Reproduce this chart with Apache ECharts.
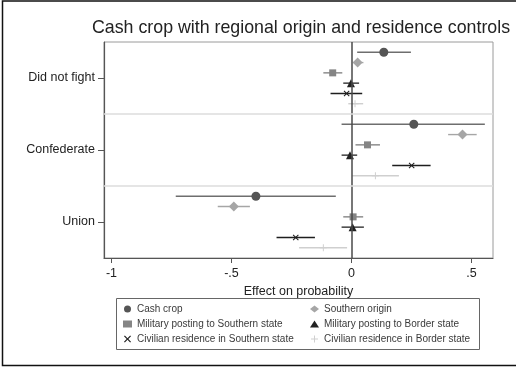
<!DOCTYPE html>
<html>
<head>
<meta charset="utf-8">
<script src="https://cdn.jsdelivr.net/npm/echarts@6/dist/echarts.min.js"></script>
<style>
  html, body { margin: 0; padding: 0; background: #fff; }
  #chart { width: 516px; height: 367px; }
</style>
</head>
<body>
<div id="chart"></div>
<script>
// Outcome groups, top to bottom
const groups = ['Did not fight', 'Confederate', 'Union'];

// Regressors, in plotting order within each group
const seriesNames = [
  'Cash crop',
  'Southern origin',
  'Military posting to Southern state',
  'Military posting to Border state',
  'Civilian residence in Southern state',
  'Civilian residence in Border state'
];

// Point estimates and 95% interval bounds, one value per group
const cashCrop      = [0.135, 0.26, -0.398];
const cashCropLo    = [0.024, -0.041, -0.732];
const cashCropHi    = [0.248, 0.556, -0.065];

const southOrigin   = [0.026, 0.463, -0.49];
const southOriginLo = [0.008, 0.403, -0.557];
const southOriginHi = [0.05, 0.522, -0.423];

const milSouth      = [-0.078, 0.067, 0.007];
const milSouthLo    = [-0.117, 0.017, -0.034];
const milSouthHi    = [-0.038, 0.119, 0.049];

const milBorder     = [-0.002, -0.006, 0.005];
const milBorderLo   = [-0.034, -0.041, -0.041];
const milBorderHi   = [0.032, 0.024, 0.052];

const civSouth      = [-0.02, 0.251, -0.232];
const civSouthLo    = [-0.087, 0.17, -0.312];
const civSouthHi    = [0.045, 0.33, -0.152];

const civBorder     = [0.015, 0.1, -0.117];
const civBorderLo   = [-0.013, 0.003, -0.218];
const civBorderHi   = [0.049, 0.198, -0.018];

// X tick values and their labels
const xTicks = [-1, -0.5, 0, 0.5];
const xTickLabels = ['-1', '-.5', '0', '.5'];

const estimates = [cashCrop, southOrigin, milSouth, milBorder, civSouth, civBorder];
const lows = [cashCropLo, southOriginLo, milSouthLo, milBorderLo, civSouthLo, civBorderLo];
const highs = [cashCropHi, southOriginHi, milSouthHi, milBorderHi, civSouthHi, civBorderHi];

// Marker styling per regressor
const xShape = 'path://M0,1.2L1.2,0L5,3.8L8.8,0L10,1.2L6.2,5L10,8.8L8.8,10L5,6.2L1.2,10L0,8.8L3.8,5Z';
const plusShape = 'path://M4.3,0H5.7V4.3H10V5.7H5.7V10H4.3V5.7H0V4.3H4.3Z';
const styles = [
  { symbol: 'circle',   size: 9,  color: '#555555', ci: '#6e6e6e' },
  { symbol: 'diamond',  size: 10, color: '#a6a6a6', ci: '#a6a6a6' },
  { symbol: 'rect',     size: 7,  color: '#858585', ci: '#858585' },
  { symbol: 'triangle', size: 8,  color: '#222222', ci: '#333333' },
  { symbol: xShape,     size: 6,  color: '#1e1e1e', ci: '#1e1e1e' },
  { symbol: plusShape,  size: 7,  color: '#cfcfcf', ci: '#cfcfcf' }
];

// Each group takes 7 row units; its six regressors sit on rows 1..6
const ROWS = 7;
const rowOf = (g, s) => g * ROWS + 1 + s;

const series = [];
seriesNames.forEach((name, s) => {
  const st = styles[s];
  series.push({
    name: name + ' CI',
    type: 'custom',
    z: 3,
    silent: true,
    encode: { x: [0, 1], y: 2 },
    data: groups.map((g, gi) => [lows[s][gi], highs[s][gi], rowOf(gi, s)]),
    renderItem: (params, api) => {
      const a = api.coord([api.value(0), api.value(2)]);
      const b = api.coord([api.value(1), api.value(2)]);
      return {
        type: 'line',
        shape: { x1: a[0], y1: a[1], x2: b[0], y2: b[1] },
        style: { stroke: st.ci, lineWidth: 1.4 }
      };
    }
  });
});
seriesNames.forEach((name, s) => {
  const st = styles[s];
  series.push({
    name: name,
    type: 'scatter',
    z: 4,
    symbol: st.symbol,
    symbolSize: st.size,
    itemStyle: { color: st.color, opacity: 1 },
    data: groups.map((g, gi) => [estimates[s][gi], rowOf(gi, s)])
  });
});

// Zero reference line and group separators
series.push({
  name: 'guides',
  type: 'scatter',
  data: [],
  z: 2,
  markLine: {
    silent: true,
    symbol: 'none',
    label: { show: false },
    animation: false,
    data: [
      { xAxis: 0, lineStyle: { color: '#4a4a4a', width: 1.5, type: 'solid' } },
      { yAxis: ROWS, lineStyle: { color: '#dddddd', width: 1.5, type: 'solid' } },
      { yAxis: ROWS * 2, lineStyle: { color: '#dddddd', width: 1.5, type: 'solid' } }
    ]
  }
});

const font = '"Liberation Sans", Arial, sans-serif';
const legendText = { fontFamily: font, fontSize: 10, color: '#3a3a3a', lineHeight: 12 };
const chart = echarts.init(document.getElementById('chart'), null, { renderer: 'canvas' });
chart.setOption({
  animation: false,
  backgroundColor: '#ffffff',
  textStyle: { fontFamily: font },
  title: {
    text: 'Cash crop with regional origin and residence controls',
    left: 92,
    top: 19,
    padding: 0,
    textStyle: { fontFamily: font, fontSize: 17.8, fontWeight: 'normal', color: '#222222' }
  },
  grid: {
    left: 104, right: 23, top: 42, height: 216,
    show: true, borderColor: '#9a9a9a', borderWidth: 1, backgroundColor: '#ffffff'
  },
  xAxis: {
    type: 'value',
    min: -1.031,
    max: 0.59,
    name: 'Effect on probability',
    nameLocation: 'middle',
    nameGap: 22,
    nameTextStyle: { fontFamily: font, fontSize: 12.5, color: '#222222' },
    axisLine: { show: true, onZero: false, lineStyle: { color: '#555555', width: 1.2 } },
    axisTick: { show: true, length: 5, customValues: xTicks, lineStyle: { color: '#555555' } },
    axisLabel: {
      customValues: xTicks,
      margin: 9,
      fontFamily: font, fontSize: 12.5, color: '#222222',
      formatter: v => {
        const i = xTicks.findIndex(t => Math.abs(t - v) < 1e-9);
        return i >= 0 ? xTickLabels[i] : '';
      }
    },
    splitLine: { show: false }
  },
  yAxis: {
    type: 'value',
    inverse: true,
    min: 0,
    max: ROWS * groups.length,
    axisLine: { show: true, onZero: false, lineStyle: { color: '#555555', width: 1.2 } },
    axisTick: { show: true, length: 6, customValues: groups.map((g, i) => i * ROWS + ROWS / 2), lineStyle: { color: '#555555' } },
    axisLabel: {
      customValues: groups.map((g, i) => i * ROWS + ROWS / 2),
      margin: 9,
      fontFamily: font, fontSize: 12.5, color: '#222222',
      formatter: v => groups[Math.round((v - ROWS / 2) / ROWS)] || ''
    },
    splitLine: { show: false }
  },
  legend: [
    {
      left: 123, top: 303, orient: 'vertical', padding: 0,
      itemWidth: 9, itemHeight: 7, itemGap: 3,
      selectedMode: false,
      textStyle: legendText,
      data: [seriesNames[0], seriesNames[2], seriesNames[4]]
    },
    {
      left: 310, top: 303, orient: 'vertical', padding: 0,
      itemWidth: 9, itemHeight: 7, itemGap: 3,
      selectedMode: false,
      textStyle: legendText,
      data: [seriesNames[1], seriesNames[3], seriesNames[5]]
    }
  ],
  graphic: [
    {
      type: 'rect', silent: true, z: -1,
      shape: { x: 116.5, y: 298.5, width: 363, height: 51 },
      style: { fill: 'none', stroke: '#666666', lineWidth: 1 }
    },
    {
      type: 'rect', silent: true, z: -1,
      shape: { x: 2.5, y: 1, width: 600, height: 364.5 },
      style: { fill: 'none', stroke: '#111111', lineWidth: 1.5 }
    }
  ],
  series: series
});
</script>
</body>
</html>
